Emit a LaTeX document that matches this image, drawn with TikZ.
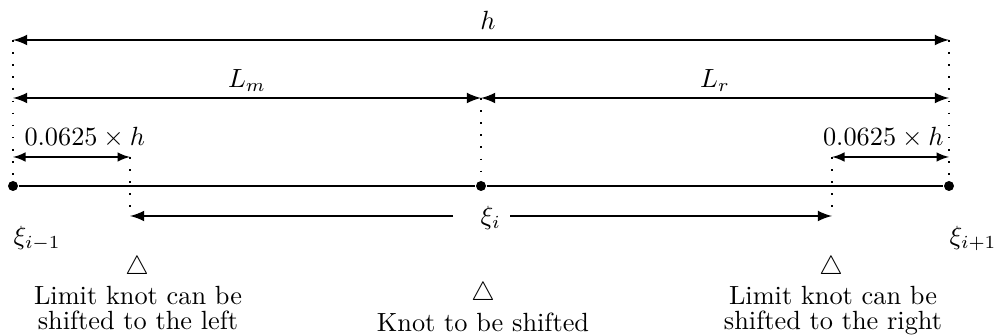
\documentclass[tikz,border=0pt]{standalone}
\usetikzlibrary{arrows}
\begin{document}
\begin{tikzpicture}[x=0.38pt,y=-0.38pt,
  knot/.style={circle,fill=black,inner sep=0pt,minimum size=3.8pt},
  dimarrow/.style={line width=0.85pt,latex-latex},
  halfarrow/.style={line width=0.85pt,-latex},
  smallarrow/.style={line width=0.65pt,latex-latex},
  mainline/.style={line width=1.1pt},
  guide/.style={line width=0.6pt,loosely dotted},
  lbl/.style={inner sep=0pt,anchor=base},
  caption/.style={inner sep=0pt,anchor=base,align=center}]
\useasboundingbox (0,0) rectangle (995,336);
% knots
\node[knot] (kL) at (13,186) {};
\node[knot] (kM) at (481,186) {};
\node[knot] (kR) at (949,186) {};
% construction points
\coordinate (hL) at (13,40);
\coordinate (hR) at (949,40);
\coordinate (mL) at (13,98);
\coordinate (mM) at (481,98);
\coordinate (mR) at (949,98);
\coordinate (sL) at (13,157);
\coordinate (sA) at (130,157);
\coordinate (sB) at (832,157);
\coordinate (sR) at (949,157);
\coordinate (lowA) at (130,216);
\coordinate (lowB) at (832,216);
\coordinate (gapL) at (453,216);
\coordinate (gapR) at (510,216);
% guides
\draw[guide] (hL) -- (kL);
\draw[guide] (hR) -- (kR);
\draw[guide] (mM) -- (kM);
\draw[guide] (sA) -- (lowA);
\draw[guide] (sB) -- (lowB);
% main line
\draw[mainline] (kL) -- (kM) -- (kR);
% dimension arrows
\draw[dimarrow] (hL) -- (hR);
\draw[dimarrow] (mL) -- (mM);
\draw[dimarrow] (mM) -- (mR);
\draw[smallarrow] (sL) -- (sA);
\draw[smallarrow] (sB) -- (sR);
\draw[halfarrow] (gapL) -- (lowA);
\draw[halfarrow] (gapR) -- (lowB);
% labels
\node[lbl] (lh) at (488,30) {$h$};
\node[lbl] (llm) at (247,88) {$L_m$};
\node[lbl] (llr) at (715,88) {$L_r$};
\node[lbl,anchor=base west] (ls1) at (24,146) {$0.0625\times h$};
\node[lbl,anchor=base east] (ls2) at (944,146) {$0.0625\times h$};
\node[lbl,anchor=base west] (xl) at (13,245) {$\xi_{i-1}$};
\node[lbl,anchor=base west] (xm) at (480,225) {$\xi_i$};
\node[lbl,anchor=base west] (xr) at (949,245) {$\xi_{i+1}$};
\node[lbl] (tl) at (137,275) {$\triangle$};
\node[lbl] (tm) at (483,301) {$\triangle$};
\node[lbl] (tr) at (831,275) {$\triangle$};
\node[caption] (cl) at (138,330) {Limit knot can be\\[-2.5pt]shifted to the left};
\node[caption] (cm) at (483,332) {Knot to be shifted};
\node[caption] (cr) at (833,330) {Limit knot can be\\[-2.5pt]shifted to the right};
\end{tikzpicture}
\end{document}
